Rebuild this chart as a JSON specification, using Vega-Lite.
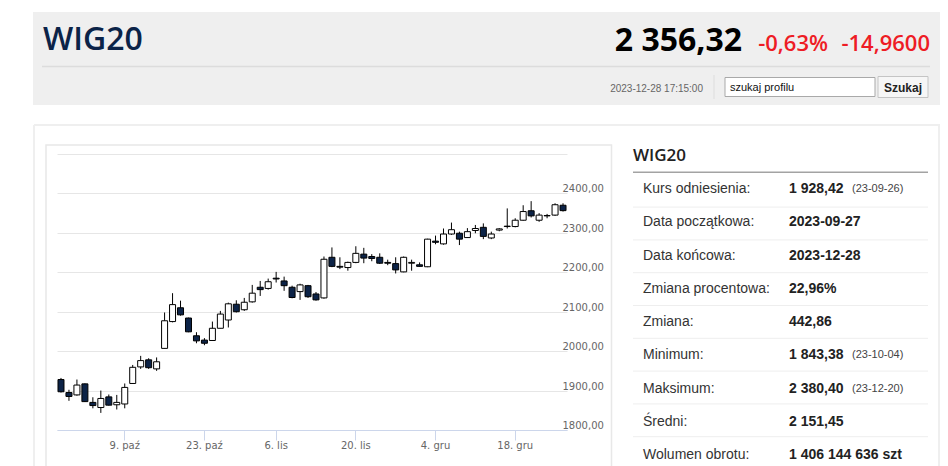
{
  "$schema": "https://vega.github.io/schema/vega-lite/v6.json",
  "description": "WIG20 quote page: header, daily candlestick chart 2023-09-27 to 2023-12-28 and summary table",
  "background": "#ffffff",
  "padding": {"left": 33, "top": 12, "right": 0, "bottom": 0},
  "spacing": 18,
  "config": {
    "view": {"stroke": null},
    "text": {"font": "Liberation Sans"}
  },
  "vconcat": [
    {
      "width": 883,
      "height": 93,
      "data": {
        "values": [
          {"part": "box", "text": ""},
          {"part": "name", "text": "WIG20"},
          {"part": "price", "text": "2 356,32"},
          {"part": "pct", "text": "-0,63%"},
          {"part": "chg", "text": "-14,9600"},
          {"part": "time", "text": "2023-12-28 17:15:00"},
          {"part": "line", "text": ""},
          {"part": "sep", "text": ""},
          {"part": "input", "text": "szukaj profilu"},
          {"part": "button", "text": "Szukaj"}
        ]
      },
      "layer": [
        {
          "transform": [{"filter": "datum.part == 'box'"}],
          "mark": {"type": "rect", "fill": "#efefef"},
          "encoding": {
            "x": {"datum": -24, "type": "quantitative", "scale": {"domain": [0, 883], "nice": false, "zero": false}, "axis": null},
            "x2": {"datum": 883},
            "y": {"datum": 0, "type": "quantitative", "scale": {"domain": [0, 93], "reverse": true, "nice": false, "zero": false}, "axis": null},
            "y2": {"datum": 93}
          }
        },
        {
          "transform": [{"filter": "datum.part == 'name'"}],
          "mark": {"type": "text", "align": "left", "baseline": "alphabetic", "font": "Open Sans", "fontWeight": 600, "fontSize": 32, "color": "#0b2348"},
          "encoding": {
            "x": {"datum": -14, "type": "quantitative"},
            "y": {"datum": 38, "type": "quantitative"},
            "text": {"field": "text"}
          }
        },
        {
          "transform": [{"filter": "datum.part == 'price'"}],
          "mark": {"type": "text", "align": "right", "baseline": "alphabetic", "font": "Open Sans", "fontWeight": "bold", "fontSize": 32, "color": "#000000"},
          "encoding": {
            "x": {"datum": 685, "type": "quantitative"},
            "y": {"datum": 38.5, "type": "quantitative"},
            "text": {"field": "text"}
          }
        },
        {
          "transform": [{"filter": "datum.part == 'pct'"}],
          "mark": {"type": "text", "align": "right", "baseline": "alphabetic", "font": "Open Sans", "fontWeight": 600, "fontSize": 22, "color": "#ee1c25"},
          "encoding": {
            "x": {"datum": 771, "type": "quantitative"},
            "y": {"datum": 38.5, "type": "quantitative"},
            "text": {"field": "text"}
          }
        },
        {
          "transform": [{"filter": "datum.part == 'chg'"}],
          "mark": {"type": "text", "align": "right", "baseline": "alphabetic", "font": "Open Sans", "fontWeight": 600, "fontSize": 22, "color": "#ee1c25"},
          "encoding": {
            "x": {"datum": 873, "type": "quantitative"},
            "y": {"datum": 38.5, "type": "quantitative"},
            "text": {"field": "text"}
          }
        },
        {
          "transform": [{"filter": "datum.part == 'line'"}],
          "mark": {"type": "rule", "color": "#dcdcdc", "strokeWidth": 1.5},
          "encoding": {
            "x": {"datum": -15, "type": "quantitative"},
            "x2": {"datum": 873},
            "y": {"datum": 54.5, "type": "quantitative"}
          }
        },
        {
          "transform": [{"filter": "datum.part == 'time'"}],
          "mark": {"type": "text", "align": "right", "baseline": "alphabetic", "fontSize": 10, "color": "#666666"},
          "encoding": {
            "x": {"datum": 646, "type": "quantitative"},
            "y": {"datum": 79.5, "type": "quantitative"},
            "text": {"field": "text"}
          }
        },
        {
          "transform": [{"filter": "datum.part == 'sep'"}],
          "mark": {"type": "rule", "color": "#dddddd", "strokeWidth": 1},
          "encoding": {
            "x": {"datum": 657, "type": "quantitative"},
            "y": {"datum": 63, "type": "quantitative"},
            "y2": {"datum": 87}
          }
        },
        {
          "transform": [{"filter": "datum.part == 'input'"}],
          "mark": {"type": "rect", "fill": "#ffffff", "stroke": "#a9a9a9", "strokeWidth": 1},
          "encoding": {
            "x": {"datum": 668, "type": "quantitative"},
            "x2": {"datum": 818},
            "y": {"datum": 65.5, "type": "quantitative"},
            "y2": {"datum": 84.5}
          }
        },
        {
          "transform": [{"filter": "datum.part == 'input'"}],
          "mark": {"type": "text", "align": "left", "baseline": "alphabetic", "fontSize": 11, "color": "#111111"},
          "encoding": {
            "x": {"datum": 673, "type": "quantitative"},
            "y": {"datum": 78.5, "type": "quantitative"},
            "text": {"field": "text"}
          }
        },
        {
          "transform": [{"filter": "datum.part == 'button'"}],
          "mark": {"type": "rect", "fill": "#f6f6f6", "stroke": "#c4c4c4", "strokeWidth": 1},
          "encoding": {
            "x": {"datum": 821, "type": "quantitative"},
            "x2": {"datum": 871},
            "y": {"datum": 64.5, "type": "quantitative"},
            "y2": {"datum": 85.5}
          }
        },
        {
          "transform": [{"filter": "datum.part == 'button'"}],
          "mark": {"type": "text", "align": "center", "baseline": "alphabetic", "fontSize": 12, "fontWeight": "bold", "color": "#222222"},
          "encoding": {
            "x": {"datum": 846, "type": "quantitative"},
            "y": {"datum": 79.5, "type": "quantitative"},
            "text": {"field": "text"}
          }
        }
      ]
    },
    {
      "spacing": -2,
      "hconcat": [
        {
          "width": 510,
          "height": 291,
          "data": {
            "values": [
              {"date": "2023-09-27", "open": 1928, "high": 1932, "low": 1895, "close": 1897},
              {"date": "2023-09-28", "open": 1895, "high": 1902, "low": 1874, "close": 1885},
              {"date": "2023-09-29", "open": 1889, "high": 1928, "low": 1887, "close": 1914},
              {"date": "2023-10-02", "open": 1917, "high": 1918, "low": 1871, "close": 1872},
              {"date": "2023-10-03", "open": 1870, "high": 1883, "low": 1855, "close": 1862},
              {"date": "2023-10-04", "open": 1857, "high": 1900, "low": 1843.38, "close": 1880},
              {"date": "2023-10-05", "open": 1884, "high": 1890, "low": 1862, "close": 1863},
              {"date": "2023-10-06", "open": 1864, "high": 1889, "low": 1852, "close": 1870},
              {"date": "2023-10-09", "open": 1866, "high": 1918, "low": 1855, "close": 1908},
              {"date": "2023-10-10", "open": 1918, "high": 1965, "low": 1917, "close": 1959},
              {"date": "2023-10-11", "open": 1960, "high": 1988, "low": 1955, "close": 1976},
              {"date": "2023-10-12", "open": 1978, "high": 1982, "low": 1955, "close": 1958},
              {"date": "2023-10-13", "open": 1955, "high": 1984, "low": 1950, "close": 1973},
              {"date": "2023-10-16", "open": 2007, "high": 2098, "low": 2007, "close": 2077},
              {"date": "2023-10-17", "open": 2075, "high": 2147, "low": 2073, "close": 2118},
              {"date": "2023-10-18", "open": 2110, "high": 2128, "low": 2090, "close": 2092},
              {"date": "2023-10-19", "open": 2084, "high": 2085, "low": 2048, "close": 2049},
              {"date": "2023-10-20", "open": 2039, "high": 2048, "low": 2020, "close": 2026},
              {"date": "2023-10-23", "open": 2028, "high": 2033, "low": 2015, "close": 2020},
              {"date": "2023-10-24", "open": 2027, "high": 2075, "low": 2026, "close": 2058},
              {"date": "2023-10-25", "open": 2058, "high": 2102, "low": 2058, "close": 2094},
              {"date": "2023-10-26", "open": 2079, "high": 2123, "low": 2060, "close": 2120},
              {"date": "2023-10-27", "open": 2119, "high": 2129, "low": 2098, "close": 2100},
              {"date": "2023-10-30", "open": 2105, "high": 2135, "low": 2102, "close": 2124},
              {"date": "2023-10-31", "open": 2125, "high": 2168, "low": 2123, "close": 2147},
              {"date": "2023-11-02", "open": 2162, "high": 2178, "low": 2140, "close": 2156},
              {"date": "2023-11-03", "open": 2159, "high": 2184, "low": 2156, "close": 2176},
              {"date": "2023-11-06", "open": 2185, "high": 2201, "low": 2174, "close": 2183},
              {"date": "2023-11-07", "open": 2178, "high": 2189, "low": 2153, "close": 2166},
              {"date": "2023-11-08", "open": 2162, "high": 2166, "low": 2134, "close": 2136},
              {"date": "2023-11-09", "open": 2151, "high": 2171, "low": 2130, "close": 2168},
              {"date": "2023-11-10", "open": 2166, "high": 2168, "low": 2135, "close": 2138},
              {"date": "2023-11-13", "open": 2145, "high": 2150, "low": 2128, "close": 2130},
              {"date": "2023-11-14", "open": 2135, "high": 2240, "low": 2133, "close": 2233},
              {"date": "2023-11-15", "open": 2238, "high": 2263, "low": 2213, "close": 2215},
              {"date": "2023-11-16", "open": 2215, "high": 2238, "low": 2208, "close": 2213},
              {"date": "2023-11-17", "open": 2212, "high": 2227, "low": 2204, "close": 2225},
              {"date": "2023-11-20", "open": 2225, "high": 2266, "low": 2223, "close": 2248},
              {"date": "2023-11-21", "open": 2246, "high": 2262, "low": 2223, "close": 2236},
              {"date": "2023-11-22", "open": 2240, "high": 2246, "low": 2228, "close": 2235},
              {"date": "2023-11-23", "open": 2238, "high": 2248, "low": 2221, "close": 2223},
              {"date": "2023-11-24", "open": 2225, "high": 2232, "low": 2218, "close": 2223},
              {"date": "2023-11-27", "open": 2222, "high": 2238, "low": 2197, "close": 2206},
              {"date": "2023-11-28", "open": 2201, "high": 2240, "low": 2200, "close": 2238},
              {"date": "2023-11-29", "open": 2223, "high": 2232, "low": 2204, "close": 2225},
              {"date": "2023-11-30", "open": 2219, "high": 2225, "low": 2214, "close": 2215},
              {"date": "2023-12-01", "open": 2214, "high": 2285, "low": 2213, "close": 2284},
              {"date": "2023-12-04", "open": 2279, "high": 2293, "low": 2271, "close": 2276},
              {"date": "2023-12-05", "open": 2272, "high": 2311, "low": 2270, "close": 2297},
              {"date": "2023-12-06", "open": 2297, "high": 2326, "low": 2295, "close": 2308},
              {"date": "2023-12-07", "open": 2299, "high": 2303, "low": 2269, "close": 2284},
              {"date": "2023-12-08", "open": 2288, "high": 2312, "low": 2287, "close": 2303},
              {"date": "2023-12-11", "open": 2306, "high": 2320, "low": 2299, "close": 2311},
              {"date": "2023-12-12", "open": 2314, "high": 2324, "low": 2284, "close": 2291},
              {"date": "2023-12-13", "open": 2287, "high": 2303, "low": 2284, "close": 2297},
              {"date": "2023-12-14", "open": 2307, "high": 2312, "low": 2304, "close": 2310},
              {"date": "2023-12-15", "open": 2317, "high": 2362, "low": 2311, "close": 2316},
              {"date": "2023-12-18", "open": 2316, "high": 2337, "low": 2314, "close": 2332},
              {"date": "2023-12-19", "open": 2332, "high": 2370, "low": 2331, "close": 2354},
              {"date": "2023-12-20", "open": 2356, "high": 2380.4, "low": 2339, "close": 2343},
              {"date": "2023-12-21", "open": 2332, "high": 2350, "low": 2328, "close": 2345},
              {"date": "2023-12-22", "open": 2343, "high": 2348, "low": 2337, "close": 2344},
              {"date": "2023-12-27", "open": 2345, "high": 2375, "low": 2343, "close": 2371.28},
              {"date": "2023-12-28", "open": 2370, "high": 2375, "low": 2354, "close": 2356.32}
            ]
          },
          "layer": [
            {
              "encoding": {
                "x": {
                  "field": "date",
                  "type": "ordinal",
                  "scale": {"paddingInner": 0, "paddingOuter": 0},
                  "axis": {
                    "title": null,
                    "values": ["2023-10-09", "2023-10-23", "2023-11-06", "2023-11-20", "2023-12-04", "2023-12-18"],
                    "labelExpr": "toNumber(substring(datum.value, 8, 10)) + '. ' + (substring(datum.value, 5, 7) == '10' ? 'paź' : substring(datum.value, 5, 7) == '11' ? 'lis' : 'gru')",
                    "labelAngle": 0,
                    "labelFont": "DejaVu Sans",
                    "labelFontSize": 10,
                    "labelColor": "#666666",
                    "labelPadding": 0,
                    "domainColor": "#ccd6eb",
                    "tickColor": "#ccd6eb",
                    "tickSize": 10,
                    "grid": false
                  }
                }
              },
              "layer": [
                {
                  "mark": {"type": "rule", "color": "#000000", "strokeWidth": 1},
                  "encoding": {
                    "y": {
                      "field": "low",
                      "type": "quantitative",
                      "scale": {"domain": [1800, 2538], "nice": false, "zero": false},
                      "axis": {
                        "orient": "right",
                        "title": null,
                        "values": [1800, 1900, 2000, 2100, 2200, 2300, 2400, 2500],
                        "labelExpr": "datum.value >= 2500 ? '' : replace(format(datum.value, '.2f'), '.', ',')",
                        "grid": true,
                        "gridColor": "#e6e6e6",
                        "domain": false,
                        "ticks": false,
                        "tickSize": 0,
                        "labelAlign": "left",
                        "labelBaseline": "alphabetic",
                        "labelOffset": -1.5,
                        "labelPadding": -5,
                        "labelFont": "DejaVu Sans",
                        "labelFontSize": 10,
                        "labelColor": "#666666"
                      }
                    },
                    "y2": {"field": "high"}
                  }
                },
                {
                  "mark": {"type": "bar", "size": 6, "stroke": "#000000", "strokeWidth": 1},
                  "encoding": {
                    "y": {
                      "field": "open",
                      "type": "quantitative",
                      "axis": {"orient": "left", "title": null, "labels": false, "ticks": false, "domain": false, "grid": false, "minExtent": 24}
                    },
                    "y2": {"field": "close"},
                    "fill": {"condition": {"test": "datum.close >= datum.open", "value": "#ffffff"}, "value": "#0c2347"},
                    "tooltip": [
                      {"field": "date", "type": "ordinal", "title": "Data"},
                      {"field": "open", "type": "quantitative", "title": "Otwarcie"},
                      {"field": "high", "type": "quantitative", "title": "Max"},
                      {"field": "low", "type": "quantitative", "title": "Min"},
                      {"field": "close", "type": "quantitative", "title": "Zamknięcie"}
                    ]
                  }
                }
              ],
              "resolve": {"axis": {"y": "independent"}}
            },
            {
              "data": {"values": [{"frame": "content"}]},
              "mark": {"type": "rule", "color": "#efefef", "strokeWidth": 2},
              "encoding": {
                "x": {"datum": -23, "type": "quantitative", "scale": {"domain": [0, 510], "nice": false, "zero": false}, "axis": null},
                "y": {"datum": 2573.5, "type": "quantitative", "axis": null},
                "y2": {"datum": 1690}
              }
            },
            {
              "data": {"values": [{"frame": "content"}]},
              "mark": {"type": "rule", "color": "#efefef", "strokeWidth": 2},
              "encoding": {
                "x": {"datum": -23, "type": "quantitative", "scale": {"domain": [0, 510], "nice": false, "zero": false}, "axis": null},
                "x2": {"datum": 555},
                "y": {"datum": 2573.5, "type": "quantitative", "axis": null}
              }
            },
            {
              "data": {"values": [{"frame": "chart"}]},
              "mark": {"type": "rect", "fill": null, "stroke": "#e8e8e8", "strokeWidth": 1.5},
              "encoding": {
                "x": {"datum": -11, "type": "quantitative", "scale": {"domain": [0, 510], "nice": false, "zero": false}, "axis": null},
                "x2": {"datum": 554.5},
                "y": {"datum": 2522.8, "type": "quantitative", "axis": null},
                "y2": {"datum": 1690}
              }
            }
          ],
          "resolve": {"scale": {"x": "independent"}, "axis": {"y": "independent"}}
        },
        {
          "width": 295,
          "height": 333,
          "data": {
            "values": [
              {"key": "head", "label": "WIG20", "value": "", "note": ""},
              {"key": "kurs", "label": "Kurs odniesienia:", "value": "1 928,42", "note": "(23-09-26)"},
              {"key": "pocz", "label": "Data początkowa:", "value": "2023-09-27", "note": ""},
              {"key": "konc", "label": "Data końcowa:", "value": "2023-12-28", "note": ""},
              {"key": "proc", "label": "Zmiana procentowa:", "value": "22,96%", "note": ""},
              {"key": "zm", "label": "Zmiana:", "value": "442,86", "note": ""},
              {"key": "min", "label": "Minimum:", "value": "1 843,38", "note": "(23-10-04)"},
              {"key": "max", "label": "Maksimum:", "value": "2 380,40", "note": "(23-12-20)"},
              {"key": "sred", "label": "Średni:", "value": "2 151,45", "note": ""},
              {"key": "wol", "label": "Wolumen obrotu:", "value": "1 406 144 636 szt", "note": ""}
            ]
          },
          "layer": [
            {
              "transform": [{"filter": "datum.key != 'head' && datum.key != 'kurs'"}],
              "mark": {"type": "rule", "color": "#eeeeee", "strokeWidth": 1},
              "encoding": {
                "y": {"field": "key", "type": "nominal", "bandPosition": 0, "scale": {"domain": ["head", "kurs", "pocz", "konc", "proc", "zm", "min", "max", "sred", "wol"], "paddingInner": 0, "paddingOuter": 0.076}, "axis": null}
              }
            },
            {
              "transform": [{"filter": "datum.key == 'kurs'"}],
              "mark": {"type": "rule", "color": "#a3a3a3", "strokeWidth": 1.5, "yOffset": -2},
              "encoding": {
                "y": {"field": "key", "type": "nominal", "bandPosition": 0, "scale": {"domain": ["head", "kurs", "pocz", "konc", "proc", "zm", "min", "max", "sred", "wol"], "paddingInner": 0, "paddingOuter": 0.076}, "axis": null}
              }
            },
            {
              "transform": [{"filter": "datum.key == 'head'"}],
              "mark": {"type": "text", "align": "left", "baseline": "middle", "font": "Open Sans", "fontSize": 17, "fontWeight": 600, "color": "#222222"},
              "encoding": {
                "x": {"datum": 0, "type": "quantitative", "scale": {"domain": [0, 295], "nice": false, "zero": false}, "axis": null},
                "y": {"field": "key", "type": "nominal", "scale": {"domain": ["head", "kurs", "pocz", "konc", "proc", "zm", "min", "max", "sred", "wol"], "paddingInner": 0, "paddingOuter": 0.076}, "axis": null},
                "text": {"field": "label"}
              }
            },
            {
              "transform": [{"filter": "datum.key != 'head'"}],
              "mark": {"type": "text", "align": "left", "baseline": "middle", "fontSize": 14, "color": "#333333"},
              "encoding": {
                "x": {"datum": 10, "type": "quantitative"},
                "y": {"field": "key", "type": "nominal", "scale": {"domain": ["head", "kurs", "pocz", "konc", "proc", "zm", "min", "max", "sred", "wol"], "paddingInner": 0, "paddingOuter": 0.076}, "axis": null},
                "text": {"field": "label"}
              }
            },
            {
              "transform": [{"filter": "datum.key != 'head'"}],
              "mark": {"type": "text", "align": "left", "baseline": "middle", "fontSize": 14, "fontWeight": "bold", "color": "#222222"},
              "encoding": {
                "x": {"datum": 156, "type": "quantitative"},
                "y": {"field": "key", "type": "nominal", "scale": {"domain": ["head", "kurs", "pocz", "konc", "proc", "zm", "min", "max", "sred", "wol"], "paddingInner": 0, "paddingOuter": 0.076}, "axis": null},
                "text": {"field": "value"}
              }
            },
            {
              "transform": [{"filter": "datum.note != ''"}],
              "mark": {"type": "text", "align": "left", "baseline": "middle", "fontSize": 11, "color": "#444444"},
              "encoding": {
                "x": {"datum": 219, "type": "quantitative"},
                "y": {"field": "key", "type": "nominal", "scale": {"domain": ["head", "kurs", "pocz", "konc", "proc", "zm", "min", "max", "sred", "wol"], "paddingInner": 0, "paddingOuter": 0.076}, "axis": null},
                "text": {"field": "note"}
              }
            },
            {
              "data": {"values": [{"frame": "content"}]},
              "mark": {"type": "rule", "color": "#efefef", "strokeWidth": 2},
              "encoding": {
                "x": {"datum": -21, "type": "quantitative"},
                "x2": {"datum": 307},
                "y": {"datum": -14, "type": "quantitative", "scale": {"domain": [0, 333], "reverse": true, "nice": false, "zero": false}, "axis": null}
              }
            },
            {
              "data": {"values": [{"frame": "content"}]},
              "mark": {"type": "rule", "color": "#efefef", "strokeWidth": 2},
              "encoding": {
                "x": {"datum": 306, "type": "quantitative"},
                "y": {"datum": -14, "type": "quantitative", "scale": {"domain": [0, 333], "reverse": true, "nice": false, "zero": false}, "axis": null},
                "y2": {"datum": 340}
              }
            }
          ],
          "resolve": {"scale": {"y": "independent"}}
        }
      ]
    }
  ]
}
